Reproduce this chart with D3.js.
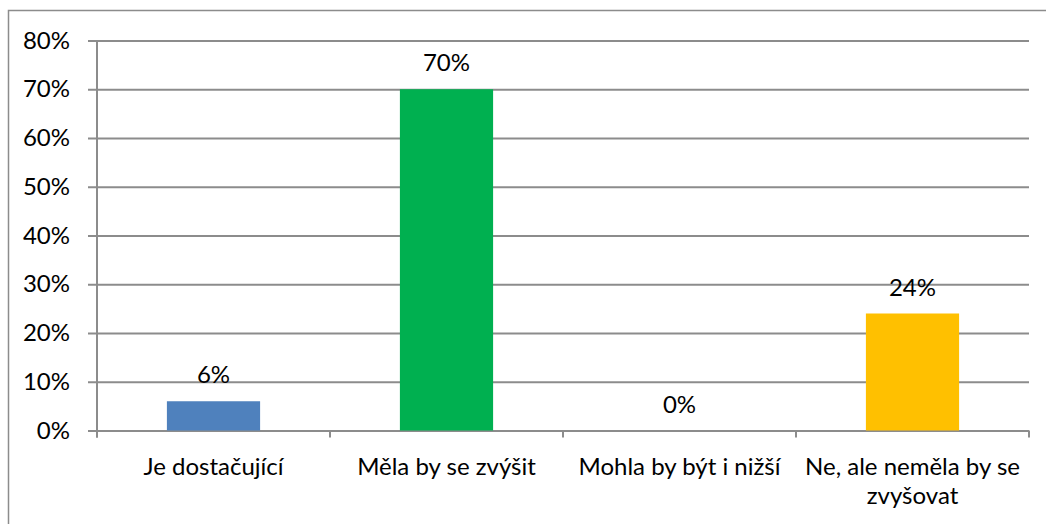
<!DOCTYPE html>
<html>
<head>
<meta charset="utf-8">
<script src="https://cdn.jsdelivr.net/npm/d3@7"></script>
<style>
  body { margin: 0; background: #fff; }
  svg text { font-family: Lato, "Open Sans", sans-serif; fill: #000; }
</style>
</head>
<body>
<div id="chart"></div>
<script>
// chart data
const categories = ["Je dostačující", "Měla by se zvýšit", "Mohla by být i nižší", "Ne, ale neměla by se zvyšovat"];
const values = [0.06, 0.70, 0.00, 0.24];
const barColors = ["#4F81BD", "#00B050", "#4F81BD", "#FFC000"];
const yTicks = [0, 0.1, 0.2, 0.3, 0.4, 0.5, 0.6, 0.7, 0.8];

const W = 1046, H = 524;
const margin = {top: 40.5, right: 17, bottom: 93.5, left: 97};
const width = W - margin.left - margin.right,
      height = H - margin.top - margin.bottom;
const fontSize = "24px";

const root = d3.select("#chart")
    .append("svg")
    .attr("width", W)
    .attr("height", H);

// outer frame (runs off the right and bottom edge)
root.append("rect")
    .attr("x", 8.5).attr("y", 10.5)
    .attr("width", W + 20).attr("height", H + 20)
    .attr("fill", "none")
    .attr("stroke", "#8c8c8c")
    .attr("stroke-width", 1.5);

const svg = root.append("g")
    .attr("transform", `translate(${margin.left},${margin.top})`);

const x = d3.scaleBand()
    .domain(categories)
    .range([0, width])
    .paddingInner(0.6)
    .paddingOuter(0.3);

const y = d3.scaleLinear()
    .domain([0, 0.8])
    .range([height, 0]);

// gridlines + y axis
const yAxis = svg.append("g")
    .call(d3.axisLeft(y).tickValues(yTicks).tickSize(-width).tickSizeOuter(0)
        .tickFormat(d3.format(".0%")).tickPadding(27));
yAxis.select(".domain").remove();
yAxis.selectAll(".tick line")
    .attr("x1", -9)
    .attr("stroke", "#8c8c8c")
    .attr("stroke-width", 2);
yAxis.selectAll(".tick text")
    .style("font-size", fontSize);

svg.append("line")
    .attr("x1", 0).attr("x2", 0)
    .attr("y1", 0).attr("y2", height + 7)
    .attr("stroke", "#8c8c8c")
    .attr("stroke-width", 2);

// x tick marks at band edges
const step = x.step();
svg.append("g")
    .selectAll("line")
    .data(d3.range(categories.length + 1))
    .enter()
    .append("line")
    .attr("x1", i => i * step).attr("x2", i => i * step)
    .attr("y1", height).attr("y2", height + 7)
    .attr("stroke", "#8c8c8c")
    .attr("stroke-width", 2);

// bars
svg.append("g")
    .selectAll("rect")
    .data(values)
    .enter()
    .append("rect")
    .attr("x", (d, i) => x(categories[i]))
    .attr("y", d => y(d))
    .attr("width", x.bandwidth())
    .attr("height", d => height - y(d))
    .attr("fill", (d, i) => barColors[i]);

// value labels
svg.append("g")
    .selectAll("text")
    .data(values)
    .enter()
    .append("text")
    .attr("x", (d, i) => x(categories[i]) + x.bandwidth() / 2)
    .attr("y", d => y(d) - 18)
    .attr("text-anchor", "middle")
    .style("font-size", fontSize)
    .text(d => d3.format(".0%")(d));

// category labels (wrapped)
const wrapLines = {"Ne, ale neměla by se zvyšovat": ["Ne, ale neměla by se", "zvyšovat"]};
const catLabels = svg.append("g")
    .selectAll("text")
    .data(categories)
    .enter()
    .append("text")
    .attr("x", d => x(d) + x.bandwidth() / 2)
    .attr("y", height + 44)
    .attr("text-anchor", "middle")
    .style("font-size", fontSize);
catLabels.each(function(d) {
    const lines = wrapLines[d] || [d];
    const t = d3.select(this);
    lines.forEach((l, k) => {
        t.append("tspan")
            .attr("x", x(d) + x.bandwidth() / 2)
            .attr("dy", k === 0 ? 0 : 29)
            .text(l);
    });
});
</script>
</body>
</html>
